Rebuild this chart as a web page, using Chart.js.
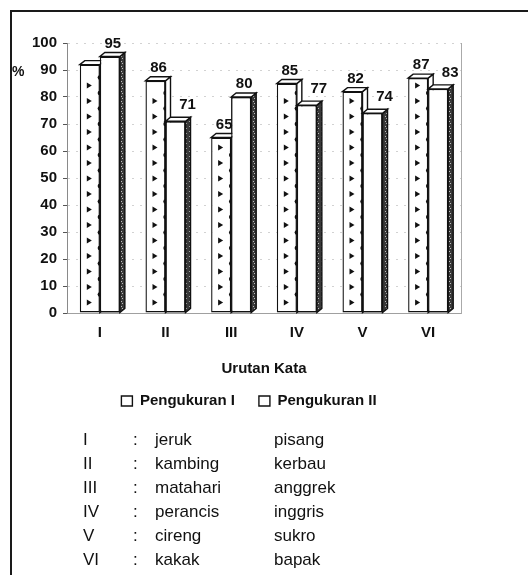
<!DOCTYPE html>
<html>
<head>
<meta charset="utf-8">
<script src="https://cdn.jsdelivr.net/npm/chart.js@4.4.0/dist/chart.umd.min.js"></script>
<style>
  html, body { margin: 0; padding: 0; background: #fff; }
  #wrap { position: relative; width: 528px; height: 575px; overflow: hidden; font-family: "Liberation Sans", Arial, sans-serif; }
  #frame { position: absolute; left: 10px; top: 10px; right: -5px; bottom: -5px; border-left: 2px solid #1a1a1a; border-top: 2px solid #1a1a1a; }
  #chartBox { position: absolute; left: 0; top: 0; width: 528px; height: 430px; }
  #keterangan { position: absolute; left: 0; top: 428px; width: 528px; font-size: 17px; color: #111; }
  .row { position: relative; height: 24px; line-height: 24px; }
  .row span { position: absolute; top: 0; }
</style>
</head>
<body>
<div id="wrap">
  <div id="frame"></div>
  <div id="chartBox"><canvas id="grafik" width="528" height="430"></canvas></div>
  <div id="keterangan"></div>
</div>
<script>
// data dari grafik
const kategori = ['I', 'II', 'III', 'IV', 'V', 'VI'];
const pengukuran1 = [92, 86, 65, 85, 82, 87];
const pengukuran2 = [95, 71, 80, 77, 74, 83];
const tanpaLabel1 = [0]; // batang pertama Pengukuran I tidak diberi angka
const kata1 = ['jeruk', 'kambing', 'matahari', 'perancis', 'cireng', 'kakak'];
const kata2 = ['pisang', 'kerbau', 'anggrek', 'inggris', 'sukro', 'bapak'];

const FONT = '"Liberation Sans", Arial, sans-serif';
const DX = 5, DY = 4; // kedalaman 3D

// tekstur sisi gelap batang Pengukuran II
function teksturGelap() {
  const c = document.createElement('canvas');
  c.width = 4; c.height = 5;
  const g = c.getContext('2d');
  g.fillStyle = '#3a3a3a';
  g.fillRect(0, 0, 4, 5);
  g.fillStyle = '#bdbdbd';
  g.fillRect(1, 1, 1, 1);
  g.fillRect(2, 3, 1, 1);
  return g.createPattern(c, 'repeat');
}

// gambar sisi & atap 3D, lalu segitiga di batang Pengukuran I
const bar3d = {
  id: 'bar3d',
  afterDatasetsDraw(chart) {
    const ctx = chart.ctx;
    const sisiGelap = teksturGelap();
    ctx.save();
    [0, 1].forEach(di => {
      const meta = chart.getDatasetMeta(di);
      meta.data.forEach(bar => {
        if (di === 1) bar.draw(ctx); // tutup sisi batang kiri
        const { x, y, base, width } = bar.getProps(['x', 'y', 'base', 'width'], true);
        const l = x - width / 2, r = x + width / 2;
        ctx.lineWidth = 1.4;
        ctx.strokeStyle = '#111';
        // sisi kanan
        ctx.beginPath();
        ctx.moveTo(r, y); ctx.lineTo(r + DX, y - DY); ctx.lineTo(r + DX, base - DY); ctx.lineTo(r, base);
        ctx.closePath();
        ctx.fillStyle = di === 1 ? sisiGelap : '#fff';
        ctx.fill(); ctx.stroke();
        // atap
        ctx.beginPath();
        ctx.moveTo(l, y); ctx.lineTo(l + DX, y - DY); ctx.lineTo(r + DX, y - DY); ctx.lineTo(r, y);
        ctx.closePath();
        ctx.fillStyle = '#fff';
        ctx.fill(); ctx.stroke();
        if (di === 0) {
          ctx.fillStyle = '#111';
          const cx = l + width * 0.45;
          for (let yy = base - 10; yy > y + 6; yy -= 15.5) {
            ctx.beginPath();
            ctx.moveTo(cx - 2, yy - 3); ctx.lineTo(cx + 3, yy); ctx.lineTo(cx - 2, yy + 3);
            ctx.closePath();
            ctx.fill();
            if (yy - 8 > y + 4) {
              ctx.beginPath();
              ctx.arc(r, yy - 8, 2.2, Math.PI / 2, Math.PI * 1.5);
              ctx.fill();
            }
          }
        }
      });
    });
    ctx.restore();
  }
};

// angka di atas batang + tanda %
const nilaiLabel = {
  id: 'nilaiLabel',
  afterDraw(chart) {
    const ctx = chart.ctx;
    ctx.save();
    ctx.font = 'bold 15px ' + FONT;
    ctx.fillStyle = '#111';
    ctx.textAlign = 'center';
    ctx.textBaseline = 'alphabetic';
    chart.data.datasets.forEach((ds, di) => {
      chart.getDatasetMeta(di).data.forEach((bar, j) => {
        if (di === 0 && tanpaLabel1.includes(j)) return;
        const v = ds.data[j];
        let dx = 3, dy = 9;
        if (di === 1 && v < pengukuran1[j]) { dx = 12; dy = 12; }
        ctx.fillText(v, bar.x + dx, bar.y - dy);
      });
    });
    ctx.font = 'bold 14px ' + FONT;
    ctx.textAlign = 'left';
    ctx.textBaseline = 'middle';
    ctx.fillText('%', 12, 72);
    ctx.restore();
  }
};

const ctx = document.getElementById('grafik').getContext('2d');
new Chart(ctx, {
  type: 'bar',
  data: {
    labels: kategori,
    datasets: [
      {
        label: 'Pengukuran I',
        data: pengukuran1,
        backgroundColor: '#fff',
        borderColor: '#111',
        borderWidth: 1.4,
        borderSkipped: false
      },
      {
        label: 'Pengukuran II',
        data: pengukuran2,
        backgroundColor: '#fff',
        borderColor: '#111',
        borderWidth: 1.4,
        borderSkipped: false
      }
    ]
  },
  options: {
    responsive: false,
    animation: false,
    layout: { padding: { left: 10, right: 40, top: 43, bottom: 11.5 } },
    datasets: { bar: { categoryPercentage: 0.61, barPercentage: 1 } },
    plugins: {
      tooltip: { enabled: false },
      legend: {
        position: 'bottom',
        labels: {
          color: '#111',
          font: { family: FONT, size: 15, weight: 'bold' },
          boxWidth: 11,
          boxHeight: 10,
          padding: 24,
          sort: (a, b) => a.datasetIndex - b.datasetIndex
        }
      }
    },
    scales: {
      x: {
        grid: { display: false, drawTicks: false },
        border: { display: true, color: '#a0a0a0', dash: [2, 4] },
        ticks: { color: '#111', font: { family: FONT, size: 15, weight: 'bold' }, padding: 11 },
        title: {
          display: true,
          text: 'Urutan Kata',
          color: '#111',
          font: { family: FONT, size: 15, weight: 'bold' },
          padding: { top: 0, bottom: -8.5 }
        },
        afterFit(scale) { scale.height = 56.5; }
      },
      y: {
        min: 0,
        max: 100,
        ticks: { stepSize: 10, color: '#111', font: { family: FONT, size: 15, weight: 'bold' }, padding: 6 },
        grid: { color: '#d2d2d2', tickLength: 4, tickColor: '#555' },
        border: { display: true, color: '#8a8a8a', dash: [2, 6] },
        afterFit(scale) { scale.width = 57; }
      },
      yKanan: {
        type: 'linear',
        position: 'right',
        min: 0,
        max: 100,
        ticks: { display: false },
        grid: { display: false, drawTicks: false },
        border: { display: true, color: '#aaa', dash: [1, 6] },
        afterFit(scale) { scale.width = 27; }
      }
    }
  },
  plugins: [bar3d, nilaiLabel]
});

// daftar kata di bawah grafik
const daftar = document.getElementById('keterangan');
kategori.forEach((k, i) => {
  const row = document.createElement('div');
  row.className = 'row';
  row.innerHTML = `
    <span style="left:83px">${k}</span>
    <span style="left:133px">:</span>
    <span style="left:155px">${kata1[i]}</span>
    <span style="left:274px">${kata2[i]}</span>
  `;
  daftar.appendChild(row);
});
</script>
</body>
</html>
